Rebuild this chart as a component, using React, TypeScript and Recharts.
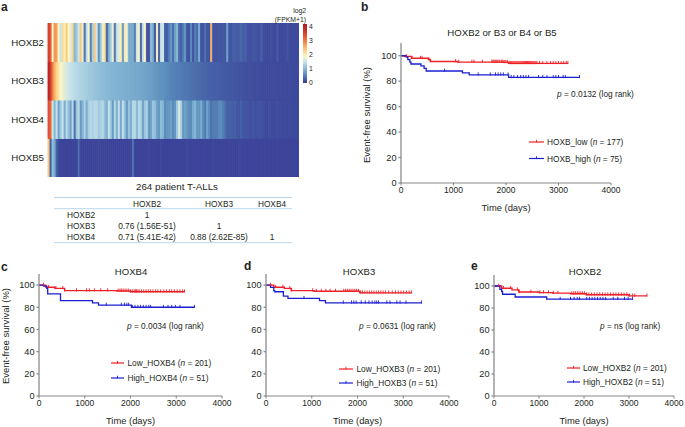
import { BarChart, Bar, Cell, XAxis, YAxis, LineChart, Line } from 'recharts'

const INK = '#231f20'
const RED = '#ee2027'
const BLUE = '#1b1fd2'
const TABLE_BLUE = '#a8cbe4'

// heatmap, expression per column (log2(FPKM+1)), patients sorted by HOXB3
const heatGenes = ['HOXB2', 'HOXB3', 'HOXB4', 'HOXB5']
const hoxb2Heat = [
    3.6, 3.3, 1.9, 2.8, 2.7, 1.9, 1.5, 2.2, 2.0, 2.4,
    1.9, 1.7, 2.3, 1.0, 1.2, 1.6, 2.4, 1.7, 0.4, 1.5,
    1.9, 0.5, 1.3, 2.4, 1.6, 0.6, 1.2, 1.8, 2.2, 0.3,
    0.9, 1.3, 1.8, 0.4, 1.5, 1.7, 2.0, 0.7, 2.0, 1.8,
    0.9, 0.9, 0.9, 0.5, 1.7, 1.8, 0.3, 1.5, 1.9, 0.2,
    0.2, 1.1, 0.9, 0.2, 1.9, 0.3, 1.5, 1.6, 0.3, 0.3,
    0.5, 0.7, 0.4, 0.8, 1.0, 0.4, 0.3, 0.5, 0.7, 0.2,
    0.2, 0.6, 0.2, 0.5, 0.4, 0.9, 0.2, 0.2, 0.4, 0.2,
    0.2, 2.6, 0.2, 0.2, 0.2, 0.25, 0.2, 0.25, 0.2, 0.8,
    0.2, 0.2, 0.3, 0.3, 0.25, 0.3, 0.35, 0.25, 0.3, 0.2,
    0.15, 0.15, 0.2, 0.2, 0.15, 0.15, 0.3, 0.15, 0.1, 0.1,
    0.1, 0.15, 0.1, 0.1, 0.25, 0.1, 0.1, 0.1, 0.1, 0.2,
    0.1, 0.1, 0.1, 0.1, 0.1,
]
const hoxb3Heat = [
    4.0, 3.6, 3.0, 2.6, 2.3, 2.1, 1.9, 1.8, 1.7, 1.65,
    1.55, 1.5, 1.45, 1.42, 1.38, 1.35, 1.32, 1.3, 1.27, 1.25,
    1.22, 1.2, 1.18, 1.15, 1.12, 1.1, 1.08, 1.06, 1.05, 1.03,
    1.02, 1.0, 0.99, 0.98, 0.97, 0.96, 0.95, 0.94, 0.93, 0.92,
    0.92, 0.9, 0.9, 0.88, 0.87, 0.86, 0.85, 0.84, 0.82, 0.8,
    0.78, 0.76, 0.75, 0.72, 0.7, 0.68, 0.67, 0.65, 0.62, 0.6,
    0.58, 0.56, 0.54, 0.52, 0.5, 0.5, 0.48, 0.47, 0.46, 0.45,
    0.44, 0.42, 0.41, 0.4, 0.38, 0.37, 0.36, 0.35, 0.34, 0.33,
    0.32, 0.31, 0.3, 0.29, 0.28, 0.27, 0.26, 0.25, 0.24, 0.23,
    0.22, 0.21, 0.2, 0.2, 0.19, 0.18, 0.18, 0.17, 0.16, 0.15,
    0.14, 0.14, 0.13, 0.13, 0.12, 0.12, 0.11, 0.11, 0.1, 0.1,
    0.1, 0.1, 0.1, 0.1, 0.1, 0.1, 0.1, 0.1, 0.1, 0.1,
    0.1, 0.1, 0.1, 0.1, 0.1,
]
const hoxb4Heat = [
    3.4, 3.2, 1.6, 1.0, 1.5, 0.8, 1.2, 1.5, 0.9, 1.4,
    1.1, 0.8, 1.4, 0.4, 1.2, 1.4, 0.7, 1.0, 1.3, 0.9,
    1.3, 1.4, 1.3, 1.4, 1.4, 1.2, 1.3, 1.4, 1.1, 0.9,
    1.5, 1.2, 0.7, 1.4, 0.9, 1.5, 0.8, 1.5, 1.1, 0.7,
    1.2, 0.9, 1.4, 1.4, 1.0, 1.4, 1.3, 0.8, 1.2, 1.3,
    0.7, 0.8, 1.2, 1.1, 0.8, 0.7, 1.1, 1.0, 0.6, 0.7,
    0.7, 0.8, 0.6, 0.7, 1.2, 1.6, 1.3, 0.7, 0.8, 0.7,
    0.6, 0.6, 0.9, 1.0, 0.7, 0.7, 0.9, 0.6, 0.5, 0.8,
    0.6, 0.4, 0.5, 0.5, 0.5, 0.6, 0.6, 0.5, 0.4, 0.3,
    0.3, 0.3, 0.25, 0.3, 0.2, 0.2, 0.3, 0.2, 0.2, 0.2,
    0.15, 0.15, 0.2, 0.15, 0.15, 0.2, 0.15, 0.15, 0.1, 0.1,
    0.15, 0.1, 0.1, 0.1, 0.15, 0.1, 0.1, 0.1, 0.1, 0.1,
    0.1, 0.1, 0.1, 0.1, 0.1,
]
const hoxb5Heat = [
    2.4, 0.3, 1.1, 0.9, 0.3, 0.1, 0.05, 0.05, 0.05, 0.05,
    0.05, 0.05, 0.05, 0.05, 0.05, 0.4, 0.05, 0.05, 0.05, 0.05,
    0.05, 0.05, 0.05, 0.05, 0.05, 0.1, 0.05, 0.05, 0.05, 0.05,
    0.05, 0.05, 0.05, 0.05, 0.05, 0.05, 0.05, 0.05, 0.05, 0.05,
    0.05, 0.05, 0.45, 0.05, 0.05, 0.05, 0.05, 0.05, 0.05, 0.05,
    0.1, 0.05, 0.05, 0.05, 0.05, 0.05, 0.1, 0.05, 0.05, 0.05,
    0.05, 0.05, 0.05, 0.05, 0.05, 0.05, 0.05, 0.05, 0.05, 0.1,
    0.05, 0.05, 0.05, 0.05, 0.05, 0.05, 0.05, 0.05, 0.05, 0.05,
    0.05, 0.05, 0.1, 0.05, 0.05, 0.05, 0.05, 0.05, 0.05, 0.05,
    0.05, 0.05, 0.05, 0.05, 0.05, 0.1, 0.05, 0.05, 0.05, 0.05,
    0.05, 0.05, 0.05, 0.05, 0.05, 0.05, 0.05, 0.05, 0.05, 0.05,
    0.05, 0.05, 0.05, 0.05, 0.05, 0.05, 0.05, 0.05, 0.05, 0.05,
    0.05, 0.05, 0.05, 0.05, 0.05,
]
const heatValues = [hoxb2Heat, hoxb3Heat, hoxb4Heat, hoxb5Heat]

const heatStops: [number, string][] = [
    [0, '#3a3e97'],
    [0.3, '#4560a6'],
    [0.6, '#5b8cbc'],
    [1, '#84b6d4'],
    [1.5, '#c5e2ec'],
    [1.9, '#fbf6c6'],
    [2.4, '#fbc97c'],
    [3, '#ee7c46'],
    [3.6, '#d63c2e'],
    [4.2, '#a11b2a'],
]
const colorbarTicks = [0, 1, 2, 3, 4]

const tableHeader = ['', 'HOXB2', 'HOXB3', 'HOXB4']
const tableRows = [
    ['HOXB2', '1', '', ''],
    ['HOXB3', '0.76 (1.56E-51)', '1', ''],
    ['HOXB4', '0.71 (5.41E-42)', '0.88 (2.62E-85)', '1'],
]
const tableColX = [81, 147, 219, 272]
const tableRowY = [215, 226, 237]

// survival curves: [days, percent] knots
const bLowT = [0, 70, 200, 520, 560, 1080, 1950, 2050, 3180]
const bLowS = [100, 99.5, 98, 97, 95.5, 95, 94.8, 94, 94]
const bHighT = [0, 100, 130, 170, 190, 380, 440, 480, 1170, 1300, 2050, 3400]
const bHighS = [100, 99, 97, 95, 93.5, 92, 90, 88, 86.5, 85, 83, 83]
const bLowCensor = [100, 210, 370, 400, 530, 560, 1040, 1100, 1350, 1390, 1550, 1730, 1750, 1770, 1790, 1810, 1830, 1850, 1880, 1910, 1930, 1960, 1980, 2000, 2030, 2070, 2090, 2110, 2130, 2150, 2170, 2190, 2210, 2230, 2250, 2270, 2290, 2310, 2330, 2350, 2370, 2390, 2410, 2430, 2450, 2470, 2490, 2510, 2530, 2550, 2570, 2590, 2640, 2700, 2780, 2850, 2900, 2950, 3000, 3050, 3100, 3150, 3180]
const bHighCensor = [830, 1470, 1700, 1800, 1850, 1900, 1950, 2040, 2100, 2150, 2220, 2280, 2330, 2380, 2430, 2620, 2700, 2780, 2900, 2950, 3000, 3090, 3130, 3400]

const cLowT = [0, 150, 350, 560, 1700, 2000, 3180]
const cLowS = [100, 98, 97, 95, 94.7, 94, 94]
const cHighT = [0, 100, 170, 190, 440, 470, 1170, 1300, 2020, 3400]
const cHighS = [100, 99, 97, 92, 92, 86, 84, 82, 80, 80]
const cLowCensor = [100, 210, 370, 520, 560, 820, 1040, 1100, 1210, 1350, 1500, 1730, 1770, 1800, 1840, 1880, 1920, 1960, 2000, 2040, 2080, 2110, 2130, 2160, 2190, 2240, 2290, 2340, 2390, 2440, 2490, 2550, 2600, 2660, 2730, 2790, 2850, 2900, 2960, 3020, 3080, 3140, 3180]
const cHighCensor = [1470, 1800, 1870, 1920, 1960, 2040, 2100, 2160, 2220, 2280, 2340, 2400, 2440, 2720, 2820, 2900, 2980, 3080, 3400]

const dLowT = [0, 170, 400, 550, 1050, 2050, 3180]
const dLowS = [100, 98, 97, 95, 94.5, 93, 93]
const dHighT = [0, 100, 170, 190, 380, 480, 1170, 1300, 3400]
const dHighS = [100, 98, 95, 94, 90, 88, 86, 84, 84]
const dLowCensor = [100, 210, 370, 520, 560, 1020, 1100, 1210, 1310, 1400, 1520, 1700, 1740, 1780, 1820, 1860, 1900, 1940, 1980, 2020, 2070, 2110, 2160, 2210, 2260, 2310, 2360, 2410, 2460, 2510, 2560, 2610, 2680, 2760, 2830, 2890, 2950, 3010, 3070, 3130, 3180]
const dHighCensor = [830, 1690, 1870, 1920, 1970, 2080, 2170, 2250, 2320, 2380, 2420, 2460, 2640, 2710, 2860, 2930, 3060, 3400]

const eLowT = [0, 170, 400, 550, 1000, 1300, 1700, 2050, 3000, 3400]
const eLowS = [100, 98, 96.5, 94.5, 94, 93.5, 93, 92, 91, 91]
const eHighT = [0, 130, 170, 190, 470, 1170, 3080]
const eHighS = [100, 97, 95, 92.5, 90, 88, 88]
const eLowCensor = [100, 210, 370, 520, 560, 820, 1020, 1100, 1210, 1320, 1420, 1730, 1770, 1810, 1850, 1890, 1930, 1970, 2010, 2060, 2110, 2170, 2230, 2290, 2350, 2410, 2470, 2530, 2590, 2650, 2710, 2770, 2830, 2890, 2950, 3010, 3080, 3130, 3400]
const eHighCensor = [1470, 1700, 1780, 1850, 1900, 2060, 2120, 2180, 2240, 2300, 2360, 2420, 2480, 2650, 2750, 2900, 2980, 3080]

const timeTicks = [0, 1000, 2000, 3000, 4000]
const survivalTicks = [0, 20, 40, 60, 80, 100]

function heatColor(v: number) {
    const mix = (a: string, b: string, f: number) => {
        const ch = (s: string, i: number) => parseInt(s.slice(1 + i * 2, 3 + i * 2), 16)
        const out = [0, 1, 2].map(i => Math.round(ch(a, i) + (ch(b, i) - ch(a, i)) * f))
        return `rgb(${out.join(',')})`
    }
    for (let i = 1; i < heatStops.length; i++) {
        if (v <= heatStops[i][0]) {
            const [v0, c0] = heatStops[i - 1]
            const [v1, c1] = heatStops[i]
            return mix(c0, c1, (v - v0) / (v1 - v0))
        }
    }
    return heatStops[heatStops.length - 1][1]
}

const heatData = hoxb2Heat.map((_, i) => ({ col: i, HOXB2: 1, HOXB3: 1, HOXB4: 1, HOXB5: 1 }))
const geneTicks = [3.5, 2.5, 1.5, 0.5]

function Heatmap() {
    // stacked from the bottom row up
    const order = [3, 2, 1, 0]
    return (
        <div style={{ position: 'absolute', left: 0, top: 23 }}>
            <BarChart width={299} height={154} data={heatData} barCategoryGap={0} barGap={0} margin={{ top: 0, right: 0, bottom: 0, left: 0 }}>
                <XAxis dataKey="col" hide />
                <YAxis
                    width={48}
                    domain={[0, 4]}
                    ticks={geneTicks}
                    tickFormatter={(v: number) => heatGenes[geneTicks.indexOf(v)]}
                    axisLine={false}
                    tickLine={false}
                    tickSize={0}
                    tickMargin={4}
                    tick={{ fontSize: 9.7, fill: INK }}
                />
                {order.map(g => (
                    <Bar key={g} dataKey={heatGenes[g]} stackId="rows" isAnimationActive={false}>
                        {heatValues[g].map((v, i) => (
                            <Cell key={i} fill={heatColor(v)} stroke={heatColor(v)} strokeWidth={0.9} />
                        ))}
                    </Bar>
                ))}
            </BarChart>
        </div>
    )
}

const colorbarData = [{ name: 'scale', top: 4.2 }]

function Colorbar() {
    return (
        <div style={{ position: 'absolute', left: 303, top: 24 }}>
            <BarChart width={20} height={59} data={colorbarData} barCategoryGap={0} margin={{ top: 0, right: 16, bottom: 0, left: 0 }}>
                <defs>
                    <linearGradient id="heatGrad" x1="0" y1="1" x2="0" y2="0">
                        {heatStops.map(([v, c]) => (
                            <stop key={v} offset={v / 4.2} stopColor={c} />
                        ))}
                    </linearGradient>
                </defs>
                <XAxis dataKey="name" hide />
                <YAxis
                    orientation="right"
                    width={0}
                    domain={[0, 4.2]}
                    ticks={colorbarTicks}
                    axisLine={false}
                    tickLine={false}
                    hide
                />
                <Bar dataKey="top" fill="url(#heatGrad)" isAnimationActive={false} />
            </BarChart>
        </div>
    )
}

function stepAt(ts: number[], ss: number[], t: number) {
    let s = ss[0]
    ts.forEach((x, i) => {
        if (x <= t) s = ss[i]
    })
    return s
}

function CensorTick({ cx, cy, stroke }: any) {
    return <line x1={cx} x2={cx} y1={cy - 2.4} y2={cy + 0.8} stroke={stroke} strokeWidth={0.9} />
}

interface KmProps {
    left: number
    right: number
    top: number
    bottom: number
    lowT: number[]
    lowS: number[]
    highT: number[]
    highS: number[]
    lowCensor: number[]
    highCensor: number[]
}

const GUTTER = 39

function KmPanel({ left, right, top, bottom, lowT, lowS, highT, highS, lowCensor, highCensor }: KmProps) {
    const low = lowT.map((t, i) => ({ t, s: lowS[i] }))
    const high = highT.map((t, i) => ({ t, s: highS[i] }))
    const lowMarks = lowCensor.map(t => ({ t, s: stepAt(lowT, lowS, t) }))
    const highMarks = highCensor.map(t => ({ t, s: stepAt(highT, highS, t) }))
    return (
        <div style={{ position: 'absolute', left: left - GUTTER, top: top - 4 }}>
            <LineChart
                width={GUTTER + (right - left) + 11}
                height={bottom - top + 4 + 34}
                margin={{ top: 4, right: 11, bottom: 6, left: 0 }}
            >
                <XAxis
                    type="number"
                    dataKey="t"
                    domain={[0, 4000]}
                    ticks={timeTicks}
                    height={28}
                    interval={0}
                    stroke="#555"
                    strokeWidth={0.7}
                    tickSize={2.5}
                    tickMargin={1.5}
                    tick={{ fontSize: 8.5, fill: INK }}
                    label={{ value: 'Time (days)', position: 'insideBottom', offset: 0, fontSize: 9.4, fill: INK }}
                />
                <YAxis
                    type="number"
                    dataKey="s"
                    width={GUTTER}
                    domain={[0, 110]}
                    ticks={survivalTicks}
                    interval={0}
                    stroke="#8c8c8c"
                    strokeWidth={1.3}
                    tickSize={2.5}
                    tickMargin={2}
                    tick={{ fontSize: 9.2, fill: INK }}
                />
                <Line data={low} dataKey="s" type="stepAfter" stroke={RED} strokeWidth={1.4} dot={false} isAnimationActive={false} />
                <Line data={high} dataKey="s" type="stepAfter" stroke={BLUE} strokeWidth={1.3} dot={false} isAnimationActive={false} />
                <Line data={lowMarks} dataKey="s" stroke={RED} strokeOpacity={0} dot={(p: any) => <CensorTick key={p.index} cx={p.cx} cy={p.cy} stroke={RED} />} isAnimationActive={false} />
                <Line data={highMarks} dataKey="s" stroke={BLUE} strokeOpacity={0} dot={(p: any) => <CensorTick key={p.index} cx={p.cx} cy={p.cy} stroke={BLUE} />} isAnimationActive={false} />
            </LineChart>
        </div>
    )
}

function T({ x, y, size = 8.3, anchor = 'start', weight, rotate, children }: any) {
    return (
        <text
            x={x}
            y={y}
            fontSize={size}
            textAnchor={anchor}
            fontWeight={weight}
            fill={INK}
            dominantBaseline="central"
            transform={rotate ? `rotate(${rotate} ${x} ${y})` : undefined}
        >
            {children}
        </text>
    )
}

function LegendEntry({ x0, x1, y, color, tx, label, n }: any) {
    return (
        <g>
            <line x1={x0} x2={x1} y1={y} y2={y} stroke={color} strokeWidth={1.2} />
            <line x1={(x0 + x1) / 2} x2={(x0 + x1) / 2} y1={y - 2.2} y2={y + 0.6} stroke={color} strokeWidth={0.9} />
            <T x={tx} y={y}>
                {label} (<tspan fontStyle="italic">n</tspan> = {n})
            </T>
        </g>
    )
}

function PValue({ x, y, text }: any) {
    return (
        <T x={x} y={y}>
            <tspan fontStyle="italic">p</tspan> = {text} (log rank)
        </T>
    )
}

function Annotations() {
    return (
        <svg width={685} height={427} style={{ position: 'absolute', left: 0, top: 0, pointerEvents: 'none' }}>
            <T x={1} y={7} size={12} weight="bold">a</T>
            <T x={361} y={7} size={12} weight="bold">b</T>
            <T x={1} y={267} size={12} weight="bold">c</T>
            <T x={244} y={266} size={12} weight="bold">d</T>
            <T x={471} y={266} size={12} weight="bold">e</T>

            <T x={306} y={10} size={6.8} anchor="end">log2</T>
            <T x={306} y={19} size={6.8} anchor="end">(FPKM+1)</T>
            {colorbarTicks.map(v => (
                <T key={v} x={309} y={82 - v * 13.8} size={6.8}>{v}</T>
            ))}

            <T x={177} y={186} size={9.8} anchor="middle">264 patient T-ALLs</T>
            <line x1={54} x2={292} y1={197.5} y2={197.5} stroke={TABLE_BLUE} strokeWidth={0.8} />
            <line x1={54} x2={292} y1={208.7} y2={208.7} stroke={TABLE_BLUE} strokeWidth={0.8} />
            <line x1={54} x2={292} y1={242.7} y2={242.7} stroke={TABLE_BLUE} strokeWidth={0.8} />
            {tableHeader.map((h, c) => (
                <T key={c} x={tableColX[c]} y={204} anchor="middle">{h}</T>
            ))}
            {tableRows.map((row, r) =>
                row.map((cell, c) => (
                    <T key={`${r}-${c}`} x={tableColX[c]} y={tableRowY[r]} anchor="middle">{cell}</T>
                ))
            )}

            <T x={366} y={115} size={9.5} anchor="middle" rotate={-90}>Event-free survival (%)</T>
            <T x={5.5} y={336} size={9.5} anchor="middle" rotate={-90}>Event-free survival (%)</T>

            <T x={502} y={32} size={9.6} anchor="middle">HOXB2 or B3 or B4 or B5</T>
            <PValue x={557} y={94} text="0.0132" />
            <LegendEntry x0={529} x1={544} y={142} color={RED} tx={547} label="HOXB_low" n={177} />
            <LegendEntry x0={529} x1={544} y={158.5} color={BLUE} tx={547} label="HOXB_high" n={75} />

            <T x={131} y={271} size={9.6} anchor="middle">HOXB4</T>
            <PValue x={127} y={326} text="0.0034" />
            <LegendEntry x0={111} x1={124} y={363} color={RED} tx={127.5} label="Low_HOXB4" n={201} />
            <LegendEntry x0={111} x1={124} y={378} color={BLUE} tx={127.5} label="High_HOXB4" n={51} />

            <T x={359} y={271} size={9.6} anchor="middle">HOXB3</T>
            <PValue x={359} y={325.5} text="0.0631" />
            <LegendEntry x0={339} x1={353} y={369} color={RED} tx={356.5} label="Low_HOXB3" n={201} />
            <LegendEntry x0={339} x1={353} y={383} color={BLUE} tx={356.5} label="High_HOXB3" n={51} />

            <T x={585} y={271} size={9.6} anchor="middle">HOXB2</T>
            <PValue x={600} y={325.5} text="ns" />
            <LegendEntry x0={567} x1={580} y={368} color={RED} tx={583} label="Low_HOXB2" n={201} />
            <LegendEntry x0={567} x1={580} y={382} color={BLUE} tx={583} label="High_HOXB2" n={51} />
        </svg>
    )
}

export default function App() {
    return (
        <div style={{ position: 'absolute', left: 0, top: 0, width: 685, height: 427, overflow: 'hidden', background: '#fff', fontFamily: '"Liberation Sans", Arial, sans-serif' }}>
            <Heatmap />
            <Colorbar />
            <KmPanel left={401} right={611} top={43} bottom={183} lowT={bLowT} lowS={bLowS} highT={bHighT} highS={bHighS} lowCensor={bLowCensor} highCensor={bHighCensor} />
            <KmPanel left={39} right={222} top={274} bottom={396} lowT={cLowT} lowS={cLowS} highT={cHighT} highS={cHighS} lowCensor={cLowCensor} highCensor={cHighCensor} />
            <KmPanel left={266} right={449} top={274} bottom={396} lowT={dLowT} lowS={dLowS} highT={dHighT} highS={dHighS} lowCensor={dLowCensor} highCensor={dHighCensor} />
            <KmPanel left={494} right={674} top={275} bottom={396} lowT={eLowT} lowS={eLowS} highT={eHighT} highS={eHighS} lowCensor={eLowCensor} highCensor={eHighCensor} />
            <Annotations />
        </div>
    )
}
